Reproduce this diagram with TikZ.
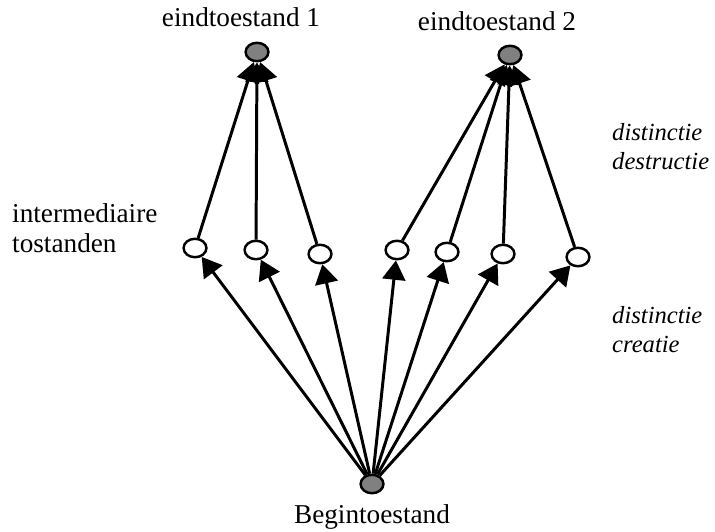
\documentclass[tikz,border=0pt]{standalone}
\usepackage{fontspec}
\setmainfont{Liberation Serif}
\usetikzlibrary{shapes.geometric,arrows.meta}

\begin{document}
\begin{tikzpicture}[x=0.02cm,y=-0.02cm,
  state/.style={ellipse,draw,line width=1.4pt,minimum width=13pt,minimum height=10.5pt,inner sep=0pt},
  endstate/.style={state,fill=gray},
  tr/.style={line width=1.7pt,-{Triangle[width=13pt,length=11pt]}},
  lbl/.style={font=\fontsize{15.5}{17}\selectfont,align=left},
  note/.style={anchor=west,align=left,font=\fontsize{14}{16.5}\selectfont\itshape}]
\useasboundingbox (0,0) rectangle (715,531);
% end states
\node [endstate] (e1) at (257,52) {};
\node [endstate] (e2) at (510,55) {};
\node [lbl] at (241,17) {eindtoestand 1};
\node [lbl] at (497,21) {eindtoestand 2};
% begin state
\node [endstate] (b) at (372,484) {};
\node [lbl] at (372,517) {Begintoestand};
% intermediate states
\node [state] (i1) at (195,248) {};
\node [state] (i2) at (256,250) {};
\node [state] (i3) at (320,254) {};
\node [state] (i4) at (397,250) {};
\node [state] (i5) at (447,252) {};
\node [state] (i6) at (503,254) {};
\node [state] (i7) at (578,257) {};
% texts
\node [lbl,anchor=west] at (6,228) {intermediaire\\tostanden};
\node [note] at (606,147) {distinctie\\destructie};
\node [note] at (606,330) {distinctie\\creatie};
% transitions
\foreach \i in {1,...,7} \draw [tr] (b) -- (i\i);
\foreach \i in {1,2,3} \draw [tr] (i\i) -- (e1);
\foreach \i in {4,...,7} \draw [tr] (i\i) -- (e2);
\end{tikzpicture}
\end{document}
